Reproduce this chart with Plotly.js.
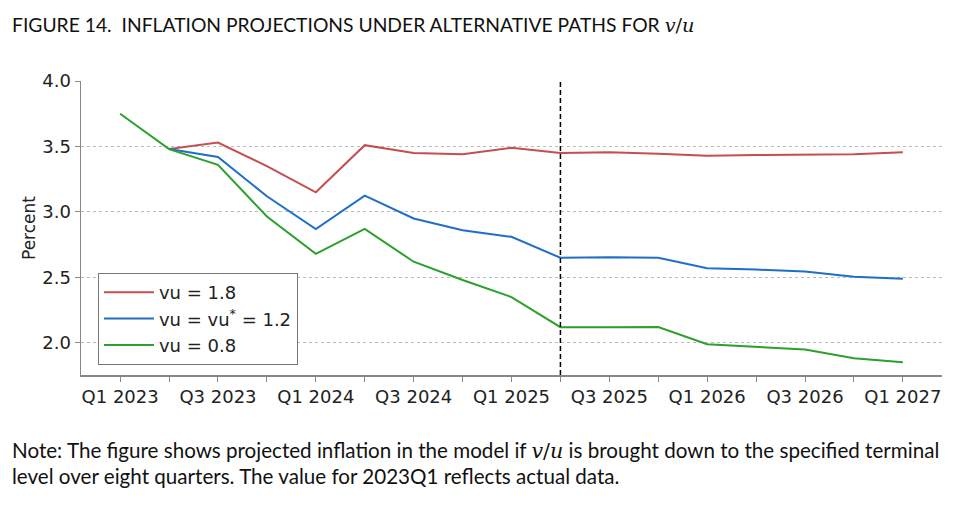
<!DOCTYPE html>
<html>
<head>
<meta charset="utf-8">
<script src="https://cdn.plot.ly/plotly-3.0.1.min.js"></script>
<style>html,body{margin:0;padding:0;background:#fff;}#chart{width:961px;height:508px;}</style>
</head>
<body>
<div id="chart"></div>
<script>
const quarters = ["Q1 2023","Q2 2023","Q3 2023","Q4 2023","Q1 2024","Q2 2024","Q3 2024","Q4 2024",
  "Q1 2025","Q2 2025","Q3 2025","Q4 2025","Q1 2026","Q2 2026","Q3 2026","Q4 2026","Q1 2027"];
const tickLabels = ["Q1 2023","","Q3 2023","","Q1 2024","","Q3 2024","","Q1 2025","","Q3 2025","","Q1 2026","","Q3 2026","","Q1 2027"];
const vuHigh = [null,3.48,3.53,3.35,3.15,3.51,3.45,3.44,3.49,3.45,3.455,3.445,3.43,3.435,3.435,3.44,3.455];
const vuStar = [null,3.48,3.42,3.12,2.87,3.125,2.95,2.86,2.81,2.65,2.655,2.65,2.57,2.56,2.545,2.505,2.49];
const vuLow  = [3.75,3.48,3.36,2.965,2.68,2.87,2.62,2.48,2.35,2.12,2.12,2.122,1.99,1.972,1.95,1.883,1.853];
const seriesNames = ["vu = 1.8","vu = vu<sup>*</sup> = 1.2","vu = 0.8"];
const cutoff = "Q2 2025";

const dv = "DejaVu Sans";
const colors = ["#c44e52","#1f6fc8","#2ca02c"];
const data = [vuHigh, vuStar, vuLow].map((y,i)=>({
  x: quarters, y: y, type: "scatter", mode: "lines", name: seriesNames[i],
  line: {color: colors[i], width: 2}, connectgaps: false
}));

const layout = {
  width: 961, height: 508,
  margin: {l: 81, r: 19, t: 81, b: 133},
  paper_bgcolor: "#fff", plot_bgcolor: "#fff",
  showlegend: true,
  legend: {x: 0.0197, y: 0.347, xanchor: "left", yanchor: "top",
    bgcolor: "#fff", bordercolor: "#777", borderwidth: 1, itemwidth: 50,
    font: {family: dv, size: 18, color: "#222"}, tracegroupgap: 0},
  xaxis: {type: "category", range: [-0.8, 16.8], tickvals: quarters, ticktext: tickLabels,
    showgrid: false, zeroline: false, showline: true, linecolor: "#888", linewidth: 1.5,
    ticks: "outside", ticklen: 5, tickcolor: "#888",
    tickfont: {family: dv, size: 18, color: "#222"}},
  yaxis: {range: [1.755, 4.0], tickvals: [2.0,2.5,3.0,3.5,4.0], ticktext: ["2.0","2.5","3.0","3.5","4.0"],
    showgrid: true, gridcolor: "#bbb", griddash: "dot", gridwidth: 1,
    zeroline: false, showline: true, linecolor: "#888", linewidth: 1.5,
    ticks: "outside", ticklen: 5, tickcolor: "#888",
    tickfont: {family: dv, size: 18, color: "#222"},
    title: {text: "Percent", font: {family: dv, size: 17, color: "#222"}, standoff: 2}},
  shapes: [{type: "line", xref: "x", yref: "paper", x0: quarters.indexOf(cutoff), x1: quarters.indexOf(cutoff),
    y0: 0, y1: 1, line: {color: "#000", width: 1.5, dash: "5px,3px"}}],
  annotations: [
    {xref: "paper", yref: "paper", x: -0.082, y: 1.19, xanchor: "left", yanchor: "middle", showarrow: false,
     text: "FIGURE 14.  INFLATION PROJECTIONS UNDER ALTERNATIVE PATHS FOR <span style=\"font-family:'DejaVu Serif'\"><i>v</i>/<i>u</i></span>",
     font: {family: "Lato", size: 19.3, color: "#111"}},
    {xref: "paper", yref: "paper", x: -0.082, y: -0.258, xanchor: "left", yanchor: "middle", showarrow: false, align: "left",
     text: "Note: The figure shows projected inflation in the model if <span style=\"font-family:'DejaVu Serif'\"><i>v</i>/<i>u</i></span> is brought down to the specified terminal",
     font: {family: "Lato", size: 20.6, color: "#111"}},
    {xref: "paper", yref: "paper", x: -0.082, y: -0.343, xanchor: "left", yanchor: "middle", showarrow: false, align: "left",
     text: "level over eight quarters. The value for 2023Q1 reflects actual data.",
     font: {family: "Lato", size: 20.6, color: "#111"}}
  ]
};
Plotly.newPlot("chart", data, layout, {displayModeBar: false, staticPlot: true});
</script>
</body>
</html>
